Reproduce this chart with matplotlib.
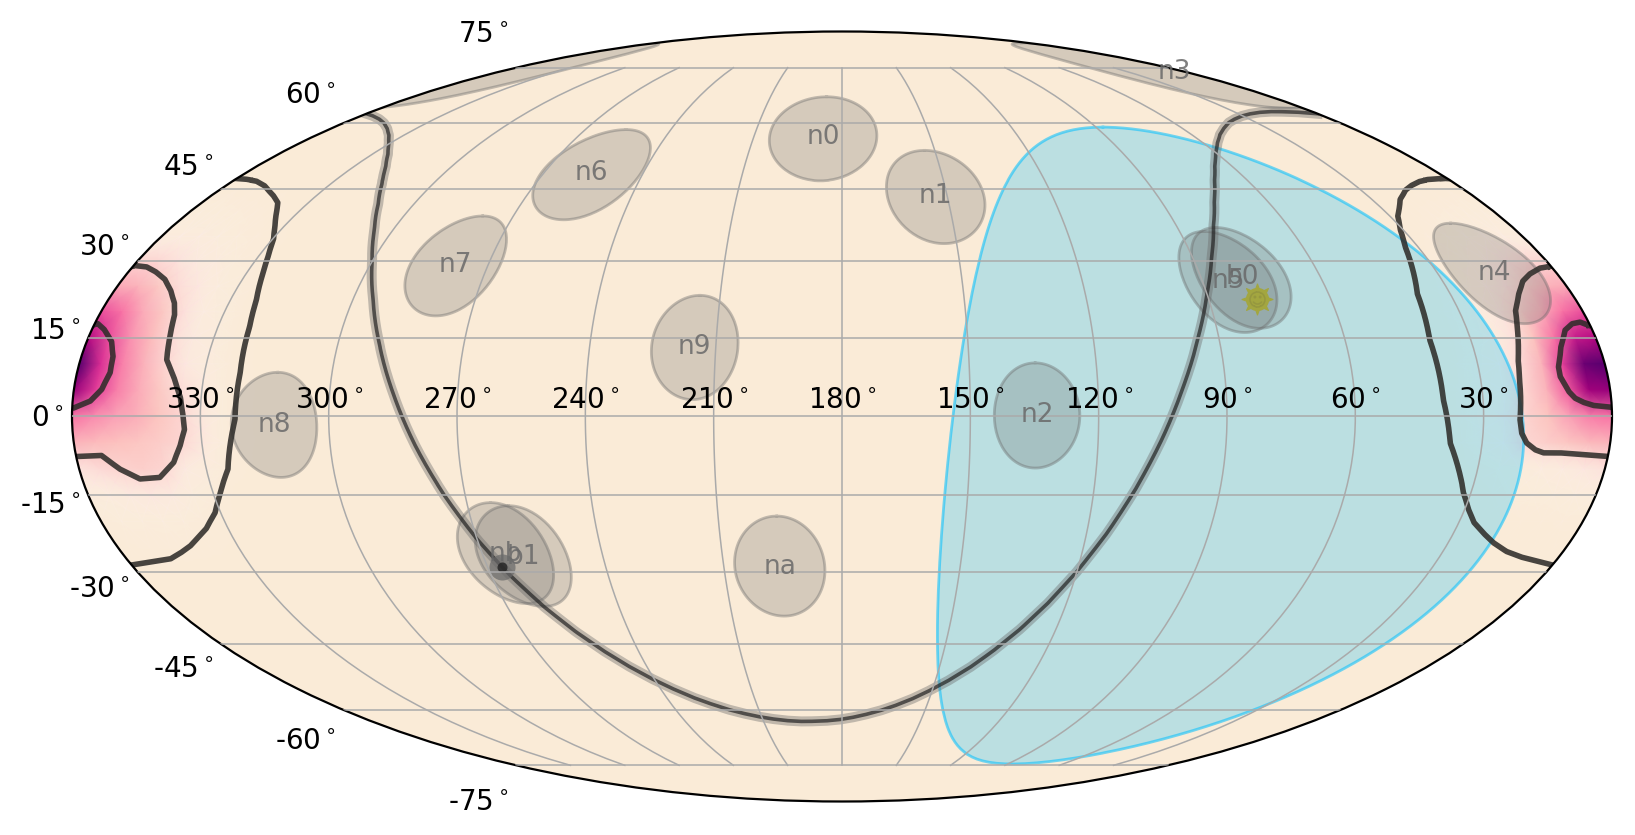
import numpy as np
import matplotlib
matplotlib.use('Agg')
import matplotlib.pyplot as plt
from matplotlib.colors import ListedColormap, PowerNorm
from matplotlib.transforms import Affine2D

##detector pointings (ra, dec in degrees)
det_names = ['n0', 'n1', 'n2', 'n3', 'n4', 'n5', 'n6', 'n7', 'n8', 'n9', 'na', 'nb', 'b0', 'b1']
det_ra = [186.4, 153.3, 134.4, 6.0, 15.5, 83.5, 255.7, 278.4, 312.8, 215.0, 195.8, 264.3, 79.7, 260.1]
det_dec = [56.7, 43.5, 0.2, 73.7, 27.7, 26.0, 48.4, 29.2, -1.6, 13.2, -29.0, -26.4, 26.8, -27.0]
det_radius = 10.0

##earth, sun and galactic centre
earth_ra, earth_dec, earth_radius = 87.5, -7.8, 66.8
sun_ra, sun_dec = 78.0, 22.5
gc_ra, gc_dec = 266.4, -28.9

##galactic plane read at steps of 5 deg
plane_ra = list(range(0, 365, 5))
plane_dec = [62.3, 62.65, 62.8, 62.86, 62.7, 62.34, 61.8, 61.05, 60.1, 58.82, 57.3, 55.35, 53.0, 50.13,
             46.6, 42.35, 37.2, 30.9, 23.5, 14.95, 5.6, -4.16, -13.6, -22.31, -29.9, -36.34, -41.7,
             -46.07, -49.7, -52.62, -55.0, -57.01, -58.6, -59.9, -60.9, -61.7,
             -62.3, -62.65, -62.8, -62.86, -62.7, -62.34, -61.8, -61.05, -60.1, -58.82, -57.3, -55.35,
             -53.0, -50.13, -46.6, -42.35, -37.2, -30.9, -23.5, -14.95, -5.6, 4.16, 13.6, 22.31, 29.9,
             36.34, 41.7, 46.07, 49.7, 52.62, 55.0, 57.01, 58.6, 59.9, 60.9, 61.7, 62.3]

##confidence contours, ra runs through zero so it goes negative
c1_ra = [0.4, 2.0, 4.1, 6.5, 9.1, 11.1, 11.2, 9.8, 8.5, 6.6, 4.3, 0.4, -0.3, -4.1, -6.5, -7.8, -7.5, -6.0, -3.1, -0.8, 0.4]
c1_dec = [17.4, 18.0, 17.7, 16.5, 13.3, 9.5, 7.6, 4.8, 3.5, 2.7, 2.1, 1.8, 1.6, 2.9, 5.1, 8.3, 11.4, 14.2, 16.5, 17.7, 17.4]
c2_ra = [0.4, 3.1, 6.7, 10.0, 13.1, 16.2, 17.7, 20.2, 20.9, 21.5, 21.0, 19.6, 17.4, 15.3, 11.4, 0.0,
         -6.0, -9.6, -13.7, -18.5, -22.6, -24.8, -26.2, -26.0, -25.2, -23.3, -21.7, -20.4, -19.4, -18.3,
         -16.8, -14.0, -10.7, -7.0, -3.7, -0.3, 0.4]
c2_dec = [28.9, 28.6, 27.5, 26.0, 23.5, 20.3, 17.1, 10.8, 7.0, -0.6, -3.1, -5.0, -6.3, -6.9, -6.9, -7.6,
          -7.4, -10.0, -11.9, -11.6, -8.8, -5.6, -2.5, 0.0, 3.5, 7.0, 9.2, 10.8, 15.2, 19.3,
          21.6, 24.1, 26.3, 27.8, 28.8, 29.1, 28.9]
c3_ra = [1.4, 6.0, 9.4, 13.2, 17.1, 22.0, 27.8, 30.7, 33.3, 38.1, 39.8, 39.3, 37.5, 31.8, 29.1, 26.4, 22.5,
         18.8, 14.2, 9.6, 0.0, -11.0, -14.4, -18.1, -21.4, -24.7, -28.6, -31.3, -35.1, -38.1, -38.4, -37.6,
         -36.4, -34.2, -32.5, -30.3, -27.6, -23.3, -21.4, -18.0, -11.5, -7.3, -3.6, 0.0, 1.4]
c3_dec = [47.2, 47.0, 46.6, 45.8, 44.7, 42.7, 39.2, 36.4, 32.9, 23.5, 14.6, 3.2, -5.0, -14.5, -17.7, -20.2, -22.4,
          -24.2, -25.9, -27.0, -28.6, -27.4, -26.3, -24.9, -23.2, -21.4, -18.4, -15.1, -10.0, -0.6, 8.3, 17.1,
          22.2, 27.5, 30.9, 34.4, 37.0, 40.6, 42.0, 43.4, 45.6, 46.6, 47.0, 47.2, 47.2]

##probability read at coarse nodes, the mesh shades between them
map_ra = [-45, -35, -25, -20, -15, -10, -5, 0, 5, 10, 15, 20, 25, 35, 45]
map_dec = [55, 45, 35, 30, 25, 20, 15, 10, 5, 0, -5, -10, -15, -20, -30, -40]
map_prob = [
    [.000, .000, .000, .000, .005, .005, .005, .005, .005, .005, .005, .000, .000, .000, .000],
    [.000, .000, .010, .015, .020, .020, .025, .025, .025, .020, .020, .015, .010, .000, .000],
    [.000, .015, .040, .055, .070, .090, .095, .095, .095, .090, .070, .055, .040, .010, .000],
    [.000, .020, .055, .090, .130, .190, .240, .250, .240, .190, .130, .080, .050, .020, .000],
    [.000, .025, .080, .150, .220, .310, .390, .420, .390, .280, .190, .120, .070, .020, .000],
    [.005, .025, .100, .200, .310, .420, .550, .630, .550, .410, .280, .170, .090, .025, .005],
    [.005, .030, .130, .230, .360, .490, .630, .780, .740, .550, .330, .190, .095, .025, .005],
    [.005, .040, .150, .260, .400, .530, .700, .970, .930, .660, .390, .230, .110, .030, .005],
    [.010, .050, .220, .310, .420, .530, .670, .840, .820, .600, .390, .250, .130, .040, .005],
    [.010, .055, .260, .330, .410, .450, .500, .550, .530, .450, .330, .260, .150, .040, .005],
    [.005, .050, .250, .290, .320, .340, .360, .390, .370, .320, .280, .240, .120, .030, .005],
    [.005, .030, .130, .250, .280, .260, .230, .190, .150, .110, .090, .070, .055, .020, .005],
    [.005, .020, .070, .130, .150, .130, .095, .080, .070, .060, .055, .050, .030, .015, .000],
    [.000, .010, .040, .055, .060, .055, .050, .040, .040, .030, .030, .025, .020, .010, .000],
    [.000, .000, .005, .010, .010, .015, .015, .015, .015, .015, .010, .010, .005, .000, .000],
    [.000, .000, .000, .000, .000, .000, .000, .000, .000, .000, .000, .000, .000, .000, .000],
]

ra_labels = [330, 300, 270, 240, 210, 180, 150, 120, 90, 60, 30]
dec_labels = [-75, -60, -45, -30, -15, 0, 15, 30, 45, 60, 75]


def to_lon(ra):
    return np.radians(180.0 - np.asarray(ra, dtype=float))


def sky_circle(ra, dec, radius, num=121):
    ##small circle around (ra, dec), ra is kept continuous across zero
    a = np.radians(radius)
    d0 = np.radians(dec)
    t = np.linspace(0, 2 * np.pi, num)
    sin_d = np.sin(d0) * np.cos(a) + np.cos(d0) * np.sin(a) * np.cos(t)
    d = np.arcsin(sin_d)
    dra = np.arctan2(np.sin(t) * np.sin(a) * np.cos(d0), np.cos(a) - np.sin(d0) * sin_d)
    return ra + np.degrees(dra), np.degrees(d)


fig = plt.figure(figsize=(8.175, 4.175), dpi=200)
ax = fig.add_axes([72 / 1635, 33 / 835, 1540 / 1635, 771 / 835], projection='mollweide')
ax.set_facecolor('antiquewhite')
ax.grid(True, color='#aaaaaa', lw=0.55)
ax.set_axisbelow(False)
ax.set_xticklabels(['%d$^\\circ$' % v for v in ra_labels], fontsize=10)
ax.set_yticklabels(['%d$^\\circ$' % v for v in dec_labels], fontsize=10)

##tick labels sit a little lower than the default place
down = Affine2D().translate(0, -1.5)
for label in ax.get_xticklabels() + ax.get_yticklabels():
    label.set_transform(label.get_transform() + down)

##probability map, faded to transparent at the low end
rgba = plt.get_cmap('RdPu')(np.linspace(0, 1, 256))
rgba[:, 3] = np.clip(np.linspace(0, 1, 256) * 6.0, 0, 1)
prob_cmap = ListedColormap(rgba)
mesh_x, mesh_y = np.meshgrid(to_lon(map_ra), np.radians(map_dec))
for shift in (0, -2 * np.pi):
    ax.pcolormesh(mesh_x + shift, mesh_y, np.array(map_prob), cmap=prob_cmap,
                  norm=PowerNorm(gamma=1.25, vmin=0, vmax=1), shading='gouraud', zorder=0.5)

##earth
ex, ey = sky_circle(earth_ra, earth_dec, earth_radius, num=241)
ax.fill(to_lon(ex), np.radians(ey), facecolor='deepskyblue', alpha=0.25, edgecolor='none', zorder=1)
ax.plot(to_lon(ex), np.radians(ey), color='deepskyblue', alpha=0.55, lw=1.0, zorder=1.1)

##detectors
for name, ra, dec in zip(det_names, det_ra, det_dec):
    cx, cy = sky_circle(ra, dec, det_radius)
    for shift in (-2 * np.pi, 0, 2 * np.pi):
        ax.fill(to_lon(cx) + shift, np.radians(cy), facecolor='dimgray', alpha=0.25, edgecolor='none', zorder=1.2)
        ax.plot(to_lon(cx) + shift, np.radians(cy), color='dimgray', alpha=0.4, lw=1.0, zorder=1.3)
    ax.text(to_lon(ra), np.radians(dec), name, color='dimgray', alpha=0.85, fontsize=9.5,
            ha='center', va='center', zorder=4)

##galactic plane
ax.plot(to_lon(plane_ra), np.radians(plane_dec), color='dimgray', alpha=0.4, lw=3.6, zorder=2)
ax.plot(to_lon(plane_ra), np.radians(plane_dec), color='#222222', alpha=0.7, lw=1.3, zorder=2.1)
ax.scatter(to_lon(gc_ra), np.radians(gc_dec), s=88, color='dimgray', alpha=0.7, linewidths=0, zorder=2.2)
ax.scatter(to_lon(gc_ra), np.radians(gc_dec), s=13, color='#222222', alpha=0.8, linewidths=0, zorder=2.3)

##sun
ax.scatter(to_lon(sun_ra), np.radians(sun_dec), s=125, marker=(8, 1, 0), color='#a3a640', linewidths=0.4,
           edgecolors='#a3a640', zorder=3)
ax.scatter(to_lon(sun_ra), np.radians(sun_dec), s=70, marker='o', color='#a3a640', linewidths=0, zorder=3.1)
ax.scatter(to_lon(sun_ra), np.radians(sun_dec), s=34, marker='$\u263a$', color='#95973f', linewidths=0.1, zorder=3.2)

##contours
for c_ra, c_dec in ((c1_ra, c1_dec), (c2_ra, c2_dec), (c3_ra, c3_dec)):
    for shift in (0, -2 * np.pi):
        ax.plot(to_lon(c_ra) + shift, np.radians(c_dec), color='#2f2d2a', alpha=0.88, lw=2.0,
                solid_joinstyle='round', zorder=2.5)

fig.savefig('out.png', dpi=200)
